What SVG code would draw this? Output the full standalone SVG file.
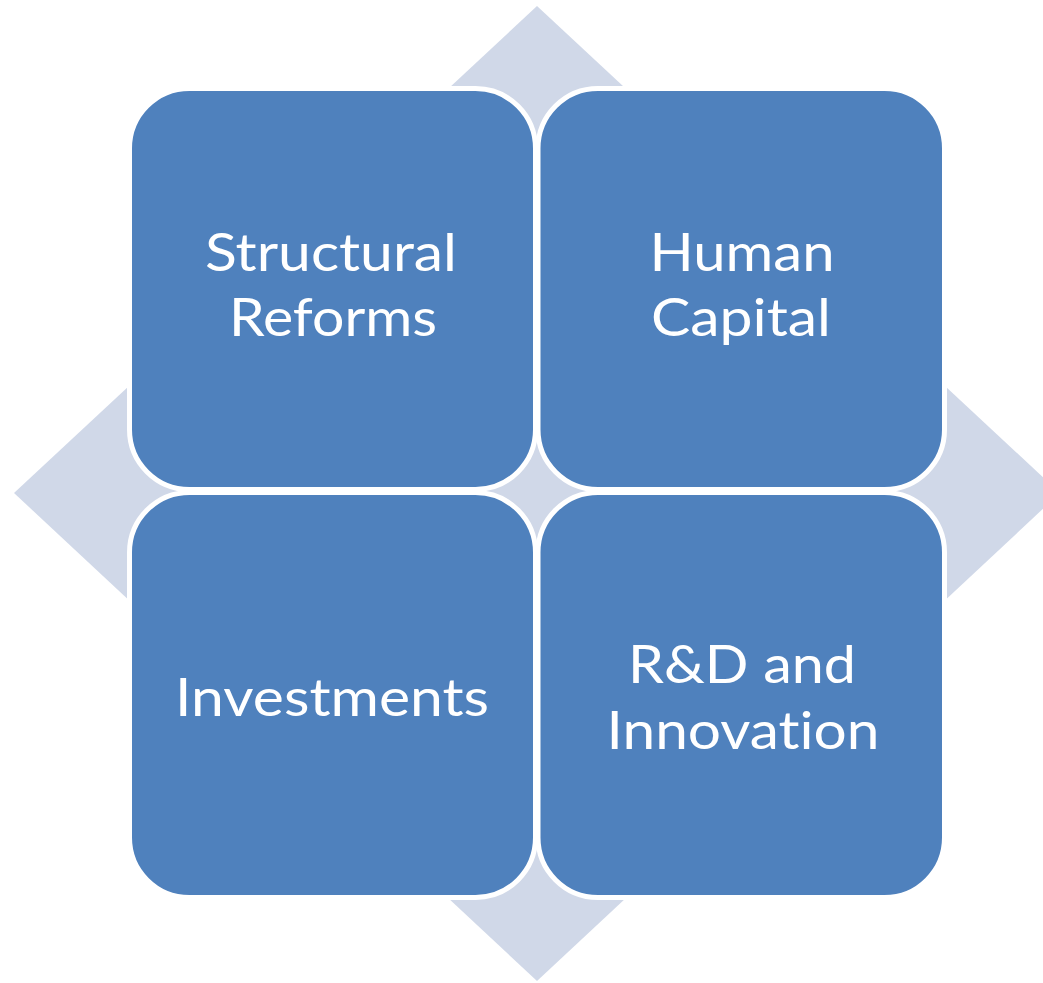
<svg xmlns="http://www.w3.org/2000/svg" width="1043" height="983" viewBox="0 0 1043 983">
<style>
.bg{fill:#D0D8E8;}
.box{fill:#4F81BD;stroke:#FFFFFF;stroke-width:5;}
.lbl{fill:#FFFFFF;font-family:Lato,"Open Sans","Liberation Sans",sans-serif;font-size:53px;text-anchor:middle;font-variant-ligatures:none;font-feature-settings:"liga" 0,"clig" 0;}
</style>
<rect width="1043" height="983" fill="#FFFFFF"/>
<g id="background">
<polygon class="bg" points="537,6 1060,493 537,981 14,493"/>
</g>
<g id="connectors"></g>
<g id="node-structural-reforms">
<rect class="box" x="129.5" y="88.5" width="406" height="401" rx="60" ry="60"/>
<text class="lbl" x="331" y="271" textLength="252" lengthAdjust="spacingAndGlyphs">Structural</text>
<text class="lbl" x="333" y="336" textLength="208" lengthAdjust="spacingAndGlyphs">Reforms</text>
</g>
<g id="node-human-capital">
<rect class="box" x="538" y="88.5" width="406.5" height="401" rx="60" ry="60"/>
<text class="lbl" x="742" y="271" textLength="185" lengthAdjust="spacingAndGlyphs">Human</text>
<text class="lbl" x="741" y="336" textLength="180" lengthAdjust="spacingAndGlyphs">Capital</text>
</g>
<g id="node-investments">
<rect class="box" x="129.5" y="492.5" width="406" height="405" rx="60" ry="60"/>
<text class="lbl" x="332" y="716" textLength="314" lengthAdjust="spacingAndGlyphs">Investments</text>
</g>
<g id="node-rd-innovation">
<rect class="box" x="538" y="492.5" width="406.5" height="405" rx="60" ry="60"/>
<text class="lbl" x="742" y="683" textLength="228" lengthAdjust="spacingAndGlyphs">R&amp;D and</text>
<text class="lbl" x="743" y="749" textLength="273" lengthAdjust="spacingAndGlyphs">Innovation</text>
</g>
</svg>
